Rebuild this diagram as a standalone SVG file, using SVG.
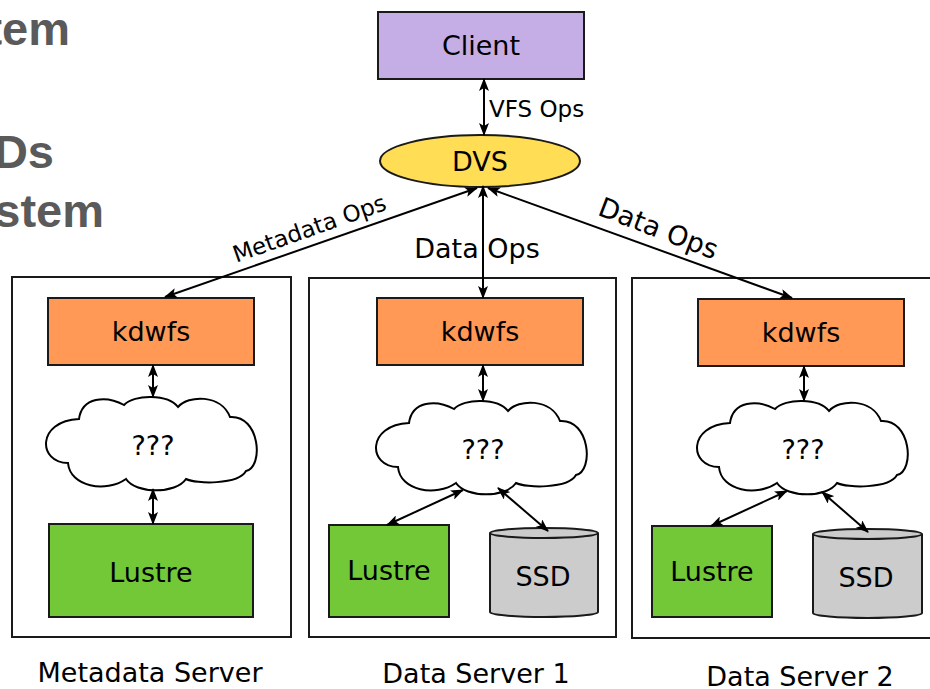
<svg xmlns="http://www.w3.org/2000/svg" width="930" height="689" viewBox="0 0 930 689">
<defs>
<style>
.bg{font-family:"Liberation Sans",Arial,sans-serif;font-weight:bold;font-size:47px;fill:#5a5a5a;text-anchor:end}
.lbl{font-family:"DejaVu Sans",Verdana,sans-serif;font-size:27px;fill:#000;text-anchor:middle}
.sm{font-size:23px}
.box{stroke:#1a1a1a;stroke-width:2;fill:#fff}
.nd{stroke:#1a1a1a;stroke-width:2}
.ln{stroke:#000;stroke-width:2;fill:none;marker-end:url(#ah);marker-start:url(#ah)}
</style>
<marker id="ah" viewBox="0 0 13 10" refX="12" refY="5" markerWidth="13" markerHeight="10" markerUnits="userSpaceOnUse" orient="auto-start-reverse">
<path d="M0,0 L13,5 L0,10 L3,5 z" fill="#000"/>
</marker>
<path id="cloud" d="M22,66 C-8,66 -10,24 33,22 C36,0 60,-2 78,8 C88,-3 122,-3 132,10 C142,-2 175,-3 184,20 C214,18 218,70 200,74 C192,88 150,87 140,82 C130,97 90,97 80,82 C60,96 24,90 22,66 Z" fill="#fff" stroke="#000" stroke-width="2"/>
</defs>
<rect width="930" height="689" fill="#fff"/>
<g id="background-text">
<text class="bg" x="70" y="45">tem</text>
<text class="bg" x="54" y="168">Ds</text>
<text class="bg" x="104" y="227">stem</text>
</g>
<g id="metadata-server">
<rect class="box" x="12" y="277" width="279" height="360"/>
<text class="lbl" x="150" y="682">Metadata Server</text>
</g>
<g id="data-server-1">
<rect class="box" x="309" y="278" width="307" height="359"/>
<text class="lbl" x="476" y="683">Data Server 1</text>
</g>
<g id="data-server-2">
<rect class="box" x="632" y="278" width="310" height="360"/>
<text class="lbl" x="800" y="686">Data Server 2</text>
</g>
<g id="client">
<rect class="nd" x="378" y="12" width="206" height="67" fill="#c5aee6"/>
<text class="lbl" x="481" y="55">Client</text>
</g>
<g id="dvs">
<ellipse class="nd" cx="480" cy="161" rx="100" ry="26" fill="#ffdd55"/>
<text class="lbl" x="480" y="171">DVS</text>
</g>
<g id="kdwfs-meta">
<rect class="nd" x="48" y="298" width="206" height="67" fill="#ff9955"/>
<text class="lbl" x="151" y="341">kdwfs</text>
</g>
<g id="kdwfs-ds1">
<rect class="nd" x="377" y="298" width="206" height="67" fill="#ff9955"/>
<text class="lbl" x="480" y="341">kdwfs</text>
</g>
<g id="kdwfs-ds2">
<rect class="nd" x="698" y="299" width="206" height="67" fill="#ff9955"/>
<text class="lbl" x="801" y="342">kdwfs</text>
</g>
<g id="cloud-meta">
<use href="#cloud" transform="translate(46,397)"/>
<text class="lbl" x="153" y="455">???</text>
</g>
<g id="cloud-ds1">
<use href="#cloud" transform="translate(376,401)"/>
<text class="lbl" x="483" y="459">???</text>
</g>
<g id="cloud-ds2">
<use href="#cloud" transform="translate(697,401)"/>
<text class="lbl" x="803" y="459">???</text>
</g>
<g id="lustre-meta">
<rect class="nd" x="49" y="524" width="204" height="93" fill="#72c837"/>
<text class="lbl" x="151" y="582">Lustre</text>
</g>
<g id="lustre-ds1">
<rect class="nd" x="329" y="525" width="120" height="92" fill="#72c837"/>
<text class="lbl" x="389" y="580">Lustre</text>
</g>
<g id="lustre-ds2">
<rect class="nd" x="652" y="526" width="120" height="91" fill="#72c837"/>
<text class="lbl" x="712" y="581">Lustre</text>
</g>
<g id="ssd-ds1">
<path class="nd" d="M490,533 L490,612 A54,5 0 0 0 598,612 L598,533" fill="#cccccc"/>
<ellipse class="nd" cx="544" cy="533" rx="54" ry="5" fill="#cccccc"/>
<text class="lbl" x="543" y="586">SSD</text>
</g>
<g id="ssd-ds2">
<path class="nd" d="M813,534 L813,613 A54.5,5 0 0 0 922,613 L922,534" fill="#cccccc"/>
<ellipse class="nd" cx="867.5" cy="534" rx="54.5" ry="5" fill="#cccccc"/>
<text class="lbl" x="866" y="587">SSD</text>
</g>
<g id="connectors">
<line class="ln" x1="484" y1="79" x2="484" y2="135"/>
<line class="ln" x1="477" y1="188" x2="165" y2="297"/>
<line class="ln" x1="483" y1="186" x2="483" y2="298"/>
<line class="ln" x1="488" y1="188" x2="792" y2="298"/>
<line class="ln" x1="153" y1="365" x2="153" y2="397"/>
<line class="ln" x1="483" y1="365" x2="483" y2="401"/>
<line class="ln" x1="804" y1="366" x2="804" y2="401"/>
<line class="ln" x1="153" y1="489" x2="153" y2="524"/>
<line class="ln" x1="463" y1="490" x2="387" y2="525"/>
<line class="ln" x1="498" y1="488" x2="548" y2="531"/>
<line class="ln" x1="787" y1="491" x2="711" y2="526"/>
<line class="ln" x1="822" y1="492" x2="868" y2="532"/>
</g>
<g id="connector-labels">
<text class="lbl sm" x="489" y="117" style="text-anchor:start">VFS Ops</text>
<text class="lbl sm" transform="translate(312,236) rotate(-19.5)">Metadata Ops</text>
<text class="lbl" x="477" y="258">Data Ops</text>
<text class="lbl" transform="translate(655,237) rotate(21)">Data Ops</text>
</g>
</svg>
